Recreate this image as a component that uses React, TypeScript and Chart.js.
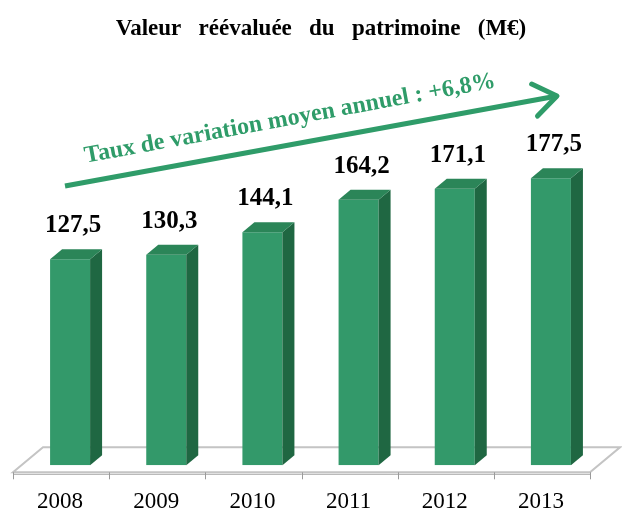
import React, { useEffect, useRef } from 'react';
import { Chart, registerables } from 'chart.js';
Chart.register(...registerables);

const years = ['2008', '2009', '2010', '2011', '2012', '2013'];
const values = [127.5, 130.3, 144.1, 164.2, 171.1, 177.5];
const titleText = 'Valeur   réévaluée   du   patrimoine   (M€)';
const trendText = 'Taux de variation moyen annuel : +6,8%';

const SERIF = '"Liberation Serif", "Times New Roman", serif';
const FRONT = '#33996A';
const SIDE = '#1F6742';
const TOP = '#2B8558';
const TEXT_GREEN = '#2F9C69';

const fmt = (v: number) => v.toFixed(1).replace('.', ',');

const deco = {
  id: 'deco',
  beforeDatasetsDraw(chart: any) {
    const { ctx, chartArea } = chart;
    const { left, right, bottom } = chartArea;
    const n = years.length;
    const catW = (right - left) / n;
    const fx = -9, fy = 7; // front offset of floor
    const bx = 30, by = -25; // floor depth
    ctx.save();
    ctx.beginPath();
    ctx.moveTo(left + fx, bottom + fy);
    ctx.lineTo(right + fx, bottom + fy);
    ctx.lineTo(right + fx + bx, bottom + fy + by);
    ctx.lineTo(left + fx + bx, bottom + fy + by);
    ctx.closePath();
    ctx.fillStyle = '#FFFFFF';
    ctx.fill();
    ctx.strokeStyle = '#C4C4C4';
    ctx.lineWidth = 2;
    ctx.stroke();
    ctx.beginPath();
    ctx.moveTo(left + fx, bottom + fy + 2);
    ctx.lineTo(right + fx, bottom + fy + 2);
    ctx.strokeStyle = '#A8A8A8';
    ctx.lineWidth = 1;
    ctx.stroke();
    ctx.strokeStyle = '#9A9A9A';
    ctx.lineWidth = 1;
    for (let i = 0; i <= n; i++) {
      const x = Math.round(left + fx + i * catW) + 0.5;
      ctx.beginPath();
      ctx.moveTo(x, bottom + fy);
      ctx.lineTo(x, bottom + fy + 7);
      ctx.stroke();
    }
    ctx.restore();
  },
  afterDatasetsDraw(chart: any) {
    const { ctx } = chart;
    const meta = chart.getDatasetMeta(0);
    const dx = 12, dy = -10;
    ctx.save();
    meta.data.forEach((bar: any, i: number) => {
      const { x, y, base, width } = bar.getProps(['x', 'y', 'base', 'width'], true);
      const l = x - width / 2;
      const r = x + width / 2;
      ctx.beginPath();
      ctx.moveTo(r, y);
      ctx.lineTo(r + dx, y + dy);
      ctx.lineTo(r + dx, base + dy);
      ctx.lineTo(r, base);
      ctx.closePath();
      ctx.fillStyle = SIDE;
      ctx.fill();
      ctx.beginPath();
      ctx.moveTo(l, y);
      ctx.lineTo(l + dx, y + dy);
      ctx.lineTo(r + dx, y + dy);
      ctx.lineTo(r, y);
      ctx.closePath();
      ctx.fillStyle = TOP;
      ctx.fill();
      ctx.fillStyle = '#000000';
      ctx.font = `bold 25px ${SERIF}`;
      ctx.textAlign = 'center';
      ctx.textBaseline = 'alphabetic';
      ctx.fillText(fmt(values[i]), x + 3, y - 27);
    });
    ctx.restore();
  },
  afterDraw(chart: any) {
    const { ctx } = chart;
    ctx.save();
    ctx.fillStyle = '#000000';
    ctx.font = `bold 23px ${SERIF}`;
    ctx.textAlign = 'center';
    ctx.textBaseline = 'alphabetic';
    ctx.fillText(titleText, 321, 35);
    const x0 = 65, y0 = 186, x1 = 557, y1 = 96;
    ctx.strokeStyle = TEXT_GREEN;
    ctx.lineWidth = 5;
    ctx.lineCap = 'butt';
    ctx.beginPath();
    ctx.moveTo(x0, y0);
    ctx.lineTo(x1, y1);
    ctx.stroke();
    const ang = Math.atan2(y1 - y0, x1 - x0);
    const L = 28, spread = 0.62;
    ctx.lineCap = 'round';
    ctx.lineJoin = 'round';
    ctx.beginPath();
    ctx.moveTo(x1 - L * Math.cos(ang - spread), y1 - L * Math.sin(ang - spread));
    ctx.lineTo(x1, y1);
    ctx.lineTo(x1 - L * Math.cos(ang + spread), y1 - L * Math.sin(ang + spread));
    ctx.stroke();
    ctx.translate(291, 125);
    ctx.rotate(Math.atan2(-76, 412));
    ctx.fillStyle = TEXT_GREEN;
    ctx.font = `bold 24px ${SERIF}`;
    ctx.textAlign = 'center';
    ctx.fillText(trendText, 0, 0);
    ctx.restore();
  },
};

export default function App() {
  const ref = useRef<HTMLCanvasElement>(null);
  useEffect(() => {
    if (!ref.current) return;
    const chart = new Chart(ref.current, {
      type: 'bar',
      data: {
        labels: years,
        datasets: [
          {
            data: values,
            backgroundColor: FRONT,
            borderWidth: 0,
            barPercentage: 0.416,
            categoryPercentage: 1,
          },
        ],
      },
      options: {
        animation: false,
        responsive: true,
        maintainAspectRatio: false,
        layout: { padding: { left: 22, right: 23, top: 142, bottom: -27 } },
        plugins: { legend: { display: false }, tooltip: { enabled: false }, title: { display: false } },
        scales: {
          x: {
            grid: { display: false, drawTicks: false },
            border: { display: false },
            ticks: {
              color: '#000000',
              font: { family: SERIF, size: 23, lineHeight: 0.9 },
              padding: 26,
              labelOffset: -10,
              maxRotation: 0,
            },
          },
          y: { display: false, min: 0, max: 200 },
        },
      },
      plugins: [deco],
    });
    return () => chart.destroy();
  }, []);
  return (
    <div style={{ position: 'fixed', left: 0, top: 0, width: 622, height: 511, background: '#fff' }}>
      <canvas ref={ref} />
    </div>
  );
}
